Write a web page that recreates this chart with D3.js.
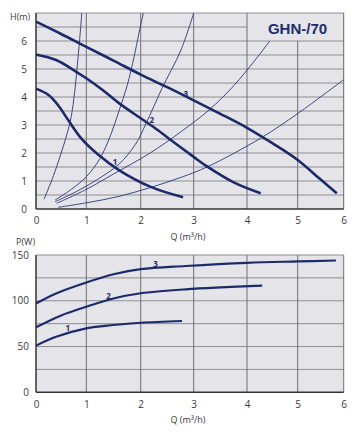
<!DOCTYPE html>
<html>
<head>
<meta charset="utf-8">
<script src="https://cdn.jsdelivr.net/npm/d3@7"></script>
<style>
  body { margin: 0; background: #fff; }
  text { font-family: "Open Sans", sans-serif; fill: #3a3a3a; }
</style>
</head>
<body>
<div id="chart"></div>
<script>
const flowTicks = [0, 1, 2, 3, 4, 5, 6];
const headTicks = [0, 1, 2, 3, 4, 5, 6];
const powerTicks = [0, 50, 100, 150];

// pump curves H(Q), speeds 1..3
const head1 = [[0, 4.3], [0.25, 4.07], [0.45, 3.68], [0.65, 3.15], [0.9, 2.52], [1.2, 1.97], [1.6, 1.39], [2.2, 0.78], [2.8, 0.42]];
const head2 = [[0, 5.52], [0.4, 5.32], [0.8, 4.9], [1, 4.67], [1.3, 4.25], [1.6, 3.78], [2, 3.24], [2.3, 2.85], [2.6, 2.42], [3, 1.86], [3.25, 1.52], [3.75, 0.95], [4.27, 0.56]];
const head3 = [[0, 6.69], [0.5, 6.25], [1, 5.79], [1.5, 5.3], [2, 4.8], [2.5, 4.35], [3, 3.88], [3.5, 3.4], [4, 2.9], [4.5, 2.35], [5, 1.75], [5.5, 1.05], [5.85, 0.56]];

// system curves
const sysA = [[0.16, 0.35], [0.35, 1.2], [0.5, 2.0], [0.62, 2.7], [0.7, 3.3], [0.77, 4.2], [0.83, 5.3], [0.88, 6.3], [0.91, 7.0]];
const sysB = [[0.38, 0.32], [0.7, 0.7], [1.0, 1.15], [1.25, 1.8], [1.45, 2.65], [1.6, 3.5], [1.75, 4.4], [1.88, 5.45], [1.97, 6.3], [2.05, 7.0]];
const sysC = [[0.38, 0.26], [0.8, 0.62], [1.2, 1.05], [1.6, 1.6], [1.9, 2.3], [2.1, 3.05], [2.4, 4.3], [2.76, 5.68], [3.0, 7.0]];
const sysD = [[0.41, 0.2], [1.0, 0.7], [1.5, 1.25], [2.17, 1.99], [2.76, 2.76], [3.29, 3.54], [3.75, 4.4], [4.16, 5.32], [4.45, 6.0]];
const sysE = [[0.44, 0.06], [1.0, 0.22], [1.6, 0.45], [2.17, 0.76], [2.76, 1.13], [3.26, 1.51], [4.27, 2.53], [5.01, 3.42], [6, 4.62]];

// power curves P(Q)
const pow1 = [[0, 51], [0.4, 60.7], [1, 69.9], [1.5, 73.5], [2, 76], [2.78, 77.9]];
const pow2 = [[0, 71], [0.5, 84], [1, 93.5], [1.5, 102.5], [2, 108.2], [2.85, 112.5], [4.3, 116.5]];
const pow3 = [[0, 97], [0.4, 108], [1, 120], [1.5, 129], [2, 134.5], [2.85, 138], [4, 141.5], [5, 143], [5.83, 144]];

const headLabels = [{ t: "1", q: 1.53, v: 1.69 }, { t: "2", q: 2.21, v: 3.2 }, { t: "3", q: 2.85, v: 4.13 }];
const powerLabels = [{ t: "1", q: 0.63, v: 71 }, { t: "2", q: 1.41, v: 106.3 }, { t: "3", q: 2.28, v: 140.2 }];

const navy = "#1c2a6c";
const bg = "#e4e4e9";

const svg = d3.select("#chart").append("svg").attr("width", 362).attr("height", 437);

// scanned chart is slightly uneven, so the flow scale is piecewise
const x = d3.scaleLinear().domain(flowTicks).range([36, 86.3, 140.7, 193.7, 247, 297.7, 343.7]);
const yH = d3.scaleLinear().domain([0, 7]).range([209, 13]);
const yP = d3.scaleLinear().domain([0, 150]).range([392.3, 255]);

const line = (ys) => d3.line().x((d) => x(d[0])).y((d) => ys(d[1])).curve(d3.curveCatmullRom.alpha(0.5));

function styleAxis(g) {
  g.select(".domain").remove();
  g.selectAll("text").style("font-size", "10px").style("font-family", "'Open Sans', sans-serif").attr("fill", "#3a3a3a");
}

// ---------- head chart ----------
const hc = svg.append("g");
hc.append("rect").attr("x", x(0)).attr("y", yH(7)).attr("width", x(6) - x(0)).attr("height", yH(0) - yH(7)).attr("fill", bg);

hc.selectAll(".hg").data(d3.range(0.5, 7.01, 0.5)).enter().append("line")
  .attr("x1", x(0)).attr("x2", (d) => (d === 6.5 ? x(4) : x(6)))
  .attr("y1", (d) => yH(d)).attr("y2", (d) => yH(d))
  .attr("stroke", "#8e8e92").attr("stroke-width", 1);

hc.selectAll(".vg").data(flowTicks.slice(1)).enter().append("line")
  .attr("x1", (d) => x(d)).attr("x2", (d) => x(d))
  .attr("y1", yH(0)).attr("y2", (d) => (d === 5 ? yH(6) : yH(7)))
  .attr("stroke", (d) => (d === 6 ? "#666" : "#707074")).attr("stroke-width", 1);

[sysA, sysB, sysC, sysD, sysE].forEach((s) => {
  hc.append("path").datum(s).attr("d", line(yH)).attr("fill", "none").attr("stroke", "#2b3878").attr("stroke-width", 0.9);
});
[head1, head2, head3].forEach((s) => {
  hc.append("path").datum(s).attr("d", line(yH)).attr("fill", "none").attr("stroke", navy).attr("stroke-width", 2.6);
});

hc.append("line").attr("x1", x(0)).attr("x2", x(0)).attr("y1", yH(7)).attr("y2", yH(0)).attr("stroke", "#333").attr("stroke-width", 1.5);
hc.append("line").attr("x1", x(0)).attr("x2", x(6)).attr("y1", yH(0)).attr("y2", yH(0)).attr("stroke", "#333").attr("stroke-width", 1.5);

hc.selectAll(".cl").data(headLabels).enter().append("text")
  .attr("x", (d) => x(d.q)).attr("y", (d) => yH(d.v)).attr("text-anchor", "middle").attr("dominant-baseline", "central")
  .style("font-size", "8px").style("font-weight", "bold").style("fill", navy).text((d) => d.t);

hc.append("text").attr("x", 297.5).attr("y", 33.5).attr("text-anchor", "middle")
  .style("font-family", "'Liberation Sans', Arial, sans-serif").style("font-size", "15px").style("font-weight", "bold")
  .style("fill", "#1e2d6e").text("GHN-/70");

hc.append("g").attr("transform", "translate(27,0)")
  .call(d3.axisLeft(yH).tickValues(headTicks).tickFormat(d3.format("d")).tickSize(0).tickPadding(0))
  .call(styleAxis);

hc.append("g").attr("transform", "translate(0,217)")
  .call(d3.axisBottom(x).tickValues(flowTicks).tickFormat(d3.format("d")).tickSize(0).tickPadding(0))
  .call(styleAxis);

hc.append("text").attr("x", 10).attr("y", 20).style("font-size", "9px").text("H(m)");
hc.append("text").attr("x", 188).attr("y", 239.5).attr("text-anchor", "middle").style("font-size", "9px").text("Q (m³/h)");

// ---------- power chart ----------
const pc = svg.append("g");
pc.append("rect").attr("x", x(0)).attr("y", yP(150)).attr("width", x(6) - x(0)).attr("height", yP(0) - yP(150)).attr("fill", bg);

pc.selectAll(".hg").data(d3.range(25, 150.1, 25)).enter().append("line")
  .attr("x1", x(0)).attr("x2", x(6)).attr("y1", (d) => yP(d)).attr("y2", (d) => yP(d))
  .attr("stroke", "#8e8e92").attr("stroke-width", 1);
pc.selectAll(".vg").data(flowTicks.slice(1)).enter().append("line")
  .attr("x1", (d) => x(d)).attr("x2", (d) => x(d)).attr("y1", yP(0)).attr("y2", yP(150))
  .attr("stroke", "#707074").attr("stroke-width", 1);

[pow1, pow2, pow3].forEach((s) => {
  pc.append("path").datum(s).attr("d", line(yP)).attr("fill", "none").attr("stroke", navy).attr("stroke-width", 2.2);
});

pc.append("line").attr("x1", x(0)).attr("x2", x(0)).attr("y1", yP(150)).attr("y2", yP(0)).attr("stroke", "#333").attr("stroke-width", 1.5);
pc.append("line").attr("x1", x(0)).attr("x2", x(6)).attr("y1", yP(0)).attr("y2", yP(0)).attr("stroke", "#333").attr("stroke-width", 1.5);

pc.selectAll(".cl").data(powerLabels).enter().append("text")
  .attr("x", (d) => x(d.q)).attr("y", (d) => yP(d.v)).attr("text-anchor", "middle").attr("dominant-baseline", "central")
  .style("font-size", "8px").style("font-weight", "bold").style("fill", navy).text((d) => d.t);

pc.append("g").attr("transform", "translate(29,0)")
  .call(d3.axisLeft(yP).tickValues(powerTicks).tickFormat(d3.format("d")).tickSize(0).tickPadding(0))
  .call(styleAxis);

pc.append("g").attr("transform", "translate(0,401)")
  .call(d3.axisBottom(x).tickValues(flowTicks).tickFormat(d3.format("d")).tickSize(0).tickPadding(0))
  .call(styleAxis);

pc.append("text").attr("x", 16).attr("y", 245).style("font-size", "9px").text("P(W)");
pc.append("text").attr("x", 188).attr("y", 422.5).attr("text-anchor", "middle").style("font-size", "9px").text("Q (m³/h)");
</script>
</body>
</html>
